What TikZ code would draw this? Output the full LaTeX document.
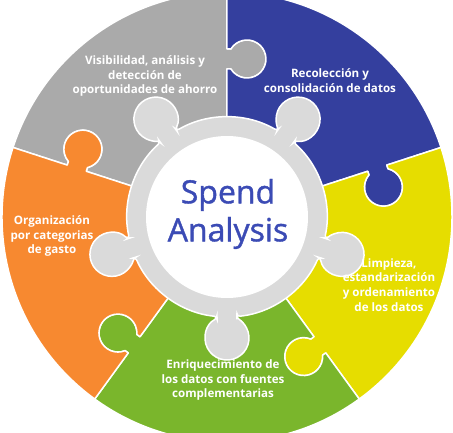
\documentclass[tikz,border=0pt]{standalone}
\usepackage{fontspec}
\setmainfont{Open Sans}
\newfontfamily\titlefont[FakeBold=1.2]{Open Sans}
\usetikzlibrary{calc}

\definecolor{piecegray}{RGB}{170,170,170}
\definecolor{pieceblue}{RGB}{52,63,158}
\definecolor{pieceyellow}{RGB}{230,221,0}
\definecolor{piecegreen}{RGB}{122,182,44}
\definecolor{pieceorange}{RGB}{247,137,48}
\definecolor{ringgray}{RGB}{218,218,218}
\definecolor{titleblue}{RGB}{59,75,181}

% knob along a boundary, going outward / inward
\newcommand{\knobout}[1]{-- ({#1}:148) -- ($({#1}:148)+({#1-90}:3.84)$)
  arc[start angle={#1+121.75}, end angle={#1+418.25}, radius=19] -- ({#1}:168)}
\newcommand{\knobin}[1]{-- ({#1}:168) -- ($({#1}:168)+({#1-90}:3.84)$)
  arc[start angle={#1+418.25}, end angle={#1+121.75}, radius=19] -- ({#1}:148)}

\begin{document}
\begin{tikzpicture}[x=1pt, y=1pt,
  piece/.style={draw=white, line width=1.5pt, line join=round},
  hub/.style={fill=ringgray, draw=white, line width=1.5pt, rounded corners=3pt},
  piece text/.style={text=white, align=center, font=\bfseries\fontsize{11.6}{14.8}\selectfont},
  title text/.style={text=titleblue, align=center, font=\titlefont\fontsize{32}{38}\selectfont}]

  \useasboundingbox (-227,-216) rectangle (226,217);
  \clip (-227,-216) rectangle (226,217);

  % puzzle pieces
  \foreach \a/\c in {90/piecegray, 18/pieceblue, -54/pieceyellow, -126/piecegreen, 162/pieceorange}
    \filldraw[piece, fill=\c] ({\a}:90) \knobout{\a} -- ({\a}:225)
      arc[start angle=\a, end angle=\a+72, radius=225]
      \knobin{\a+72} -- ({\a+72}:90)
      arc[start angle=\a+72, end angle=\a, radius=90] -- cycle;

  % hub with knobs
  \filldraw[hub] (-84.26:100)
    \foreach \b in {-18,54,126,198,270} {
      arc[start angle={\b-72+5.74}, end angle={\b-5.74}, radius=100]
      -- ($(\b:121)+({\b+207}:22)$)
      arc[start angle={\b+207}, end angle={\b+513}, radius=22]
      -- ({\b+5.74}:100)
    } -- cycle;
  \node[circle, fill=white, minimum size=162pt, inner sep=0pt] (core) at (0,0) {};

  \node[title text] (title) at (1,3) {Spend\\Analysis};

  \node[piece text] (visibility) at (-82,141) {Visibilidad, análisis y\\detección de\\oportunidades de ahorro};
  \node[piece text] (collection) at (103,136) {Recolección y\\consolidación de datos};
  \node[piece text] (cleaning) at (162,-68) {Limpieza,\\estandarización\\y ordenamiento\\de los datos};
  \node[piece text] (enrichment) at (-4,-163) {Enriquecimiento de\\los datos con fuentes\\complementarias};
  \node[piece text] (grouping) at (-175,-19) {Organización\\por categorias\\de gasto};
\end{tikzpicture}
\end{document}
